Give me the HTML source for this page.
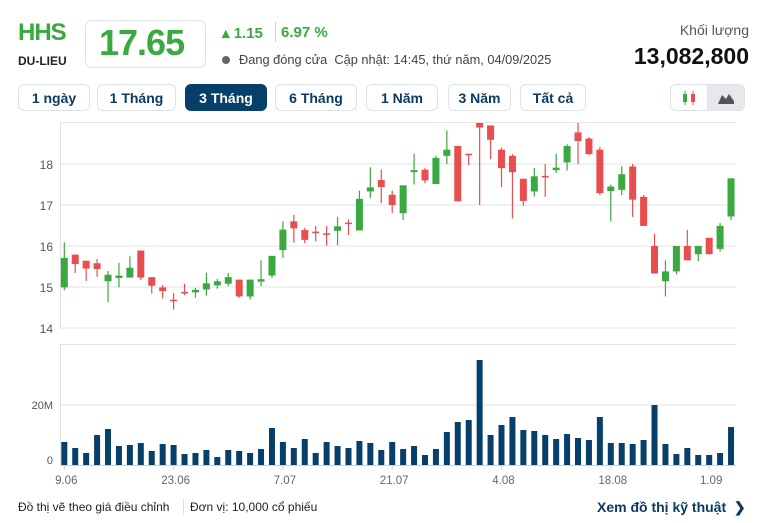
<!DOCTYPE html>
<html><head><meta charset="utf-8">
<style>
body{margin:0;width:765px;height:523px;background:#fff;font-family:"Liberation Sans",sans-serif;overflow:hidden;position:relative}
.a{position:absolute;white-space:nowrap}
.btn{position:absolute;top:84px;height:27px;border:1px solid #dde2e8;border-radius:6px;font-size:14px;font-weight:bold;color:#0d3a63;text-align:center;line-height:27px;box-sizing:border-box;background:#fff}
</style></head><body>
<div class="a" style="left:18px;top:19px;font-size:24px;font-weight:bold;color:#3aa93f;letter-spacing:-1px">HHS</div>
<div class="a" style="left:18px;top:54px;font-size:12px;font-weight:bold;color:#222">DU-LIEU</div>
<div class="a" style="left:85px;top:20px;width:121px;height:48px;border:1px solid #dde2e8;border-radius:6px;box-sizing:border-box"></div>
<div class="a" style="left:99px;top:22px;font-size:36px;font-weight:bold;color:#3aa93f;letter-spacing:-1px">17.65</div>
<div class="a" style="left:222px;top:24px;font-size:15px;font-weight:bold;color:#3aa93f">▴ 1.15</div>
<div class="a" style="left:275px;top:22px;width:1px;height:20px;background:#ccc"></div>
<div class="a" style="left:281px;top:24px;font-size:15px;font-weight:bold;color:#3aa93f">6.97 %</div>
<div class="a" style="left:222px;top:56px;width:8px;height:8px;border-radius:50%;background:#666"></div>
<div class="a" style="left:239px;top:52px;font-size:12.8px;color:#444">Đang đóng cửa&nbsp; Cập nhật: 14:45, thứ năm, 04/09/2025</div>
<div class="a" style="right:16px;top:22px;font-size:14px;color:#555">Khối lượng</div>
<div class="a" style="right:16px;top:43px;font-size:23px;font-weight:bold;color:#111">13,082,800</div>
<div class="btn" style="left:18px;width:72px">1 ngày</div>
<div class="btn" style="left:97px;width:79px">1 Tháng</div>
<div class="btn" style="left:185px;width:82px;background:#073f6b;color:#fff;border-color:#073f6b">3 Tháng</div>
<div class="btn" style="left:275px;width:82px">6 Tháng</div>
<div class="btn" style="left:366px;width:72px">1 Năm</div>
<div class="btn" style="left:448px;width:63px">3 Năm</div>
<div class="btn" style="left:520px;width:66px">Tất cả</div>
<div class="btn" style="left:670px;width:38px;border-radius:6px 0 0 6px"></div>
<div class="btn" style="left:707px;width:38px;background:#e6e8eb;border-radius:0 6px 6px 0"></div>
<svg class="a" style="left:680px;top:89px" width="20" height="18"><line x1="5" y1="2" x2="5" y2="16" stroke="#3aa93f"/><rect x="3" y="5" width="4" height="8" fill="#3aa93f"/><line x1="13" y1="2" x2="13" y2="16" stroke="#e84e4e"/><rect x="11" y="5" width="4" height="8" fill="#e84e4e"/></svg>
<svg class="a" style="left:716px;top:89px" width="20" height="18"><path d="M2 15 L6 6 L10 10 L13 5 L18 12 L18 15Z" fill="#555"/></svg>
<svg id="c" class="a" style="left:0;top:0" width="765" height="500"></svg>
<div class="a" style="left:18px;top:500px;font-size:12px;color:#222">Đồ thị vẽ theo giá điều chỉnh</div>
<div class="a" style="left:183px;top:499px;width:1px;height:16px;background:#ddd"></div>
<div class="a" style="left:190px;top:500px;font-size:12px;color:#222">Đơn vị: 10,000 cổ phiếu</div>
<div class="a" style="left:597px;top:499px;font-size:14px;font-weight:bold;color:#0d3a63">Xem đồ thị kỹ thuật&nbsp; ❯</div>
<script>
var d=[[14.99,15.71,16.09,14.92],[15.79,15.56,15.79,15.34],[15.64,15.45,15.64,15.15],[15.58,15.44,15.68,15.25],[15.14,15.30,15.39,14.63],[15.22,15.28,15.59,14.99],[15.23,15.47,15.75,15.23],[15.89,15.23,15.89,15.17],[15.24,15.03,15.24,14.84],[14.99,14.90,15.05,14.72],[14.69,14.67,14.85,14.45],[14.88,14.86,15.08,14.80],[14.87,14.93,14.98,14.74],[14.94,15.09,15.35,14.79],[15.04,15.14,15.20,14.96],[15.08,15.24,15.34,15.02],[15.18,14.77,15.18,14.74],[14.77,15.18,15.18,14.70],[15.13,15.19,15.65,15.02],[15.28,15.76,15.76,15.22],[15.90,16.40,16.60,15.71],[16.60,16.43,16.76,16.08],[16.39,16.15,16.44,16.07],[16.35,16.33,16.49,16.11],[16.31,16.29,16.49,16.01],[16.37,16.48,16.71,16.02],[16.57,16.55,16.65,16.27],[16.38,17.15,17.35,16.38],[17.33,17.43,17.92,17.17],[17.61,17.44,17.86,17.05],[17.25,17.00,17.35,16.81],[16.80,17.48,17.48,16.63],[17.80,17.85,18.25,17.50],[17.86,17.60,17.90,17.53],[17.51,18.15,18.20,17.51],[18.20,18.35,18.82,18.00],[18.44,17.09,18.44,17.09],[18.25,18.23,18.25,17.97],[19.00,18.89,19.00,17.00],[18.94,18.59,18.94,18.12],[18.35,17.90,18.40,17.44],[18.20,17.80,18.24,16.67],[17.64,17.10,17.64,16.98],[17.33,17.70,17.90,17.21],[17.71,17.69,18.00,17.20],[17.85,17.91,18.25,17.78],[18.04,18.44,18.48,17.84],[18.77,18.56,19.00,18.00],[18.62,18.24,18.66,18.22],[18.35,17.29,18.41,17.24],[17.34,17.45,17.50,16.60],[17.37,17.75,17.95,17.24],[17.94,17.13,18.00,16.71],[17.20,16.49,17.25,16.49],[16.00,15.33,16.30,15.33],[15.14,15.38,15.65,14.77],[15.38,16.00,16.00,15.31],[16.00,15.65,16.39,15.65],[15.80,16.00,16.00,15.63],[16.20,15.80,16.20,15.80],[15.93,16.49,16.56,15.87],[16.72,17.65,17.65,16.63]];
var v=[23,17,12,30,36,19,20,22,14,21,20,11,12,15,8,15,14,12,16,37,23,17,26,12,23,19,17,24,22,15,23,16,19,10,16,33,43,45,105,30,40,48,35,34,30,26,31,27,25,48,22,22,21,25,60,21,11,17,10,10,12,38];
var s='',Y=function(p){return 164+(18-p)*41};
s+='<line x1="60" y1="122.5" x2="736" y2="122.5" stroke="#e3e3e3"/>';
[18,17,16,15,14].forEach(function(p){var y=Y(p);s+='<line x1="60" y1="'+y+'" x2="736" y2="'+y+'" stroke="#e3e3e3"/><text x="53" y="'+(y+5)+'" text-anchor="end" font-size="12" fill="#555">'+p+'</text>'});
s+='<line x1="60.5" y1="122" x2="60.5" y2="329" stroke="#e3e3e3"/>';
s+='<line x1="60" y1="344.5" x2="736" y2="344.5" stroke="#e3e3e3"/><line x1="60" y1="405" x2="736" y2="405" stroke="#e3e3e3"/><line x1="60.5" y1="344" x2="60.5" y2="465" stroke="#e3e3e3"/><line x1="60" y1="465.5" x2="736" y2="465.5" stroke="#c9d3de"/>';
s+='<text x="53" y="409" text-anchor="end" font-size="11" fill="#555">20M</text><text x="53" y="464" text-anchor="end" font-size="11" fill="#555">0</text>';
d.forEach(function(c,i){var x=64.3+i*10.93,g=c[1]>=c[0],col=g?'#3aa93f':'#e84e4e',t=Y(Math.max(c[0],c[1])),b=Y(Math.min(c[0],c[1]));var h=Math.max(b-t,1.5);
s+='<line x1="'+x+'" y1="'+Y(c[2])+'" x2="'+x+'" y2="'+Y(c[3])+'" stroke="'+col+'" stroke-width="1.2"/><rect x="'+(x-3.5)+'" y="'+t+'" width="7" height="'+h+'" fill="'+col+'"/>';
s+='<rect x="'+(x-3)+'" y="'+(465-v[i])+'" width="6" height="'+v[i]+'" fill="#073f6b"/>';});
[[0,'9.06'],[10,'23.06'],[20,'7.07'],[30,'21.07'],[40,'4.08'],[50,'18.08'],[59,'1.09']].forEach(function(l){var x=64.3+l[0]*10.93;s+='<line x1="'+x+'" y1="465" x2="'+x+'" y2="470" stroke="#c9d3de"/><text x="'+(x+2)+'" y="484" text-anchor="middle" font-size="11.5" fill="#666">'+l[1]+'</text>'});
document.getElementById('c').innerHTML=s;
</script>
</body></html>
